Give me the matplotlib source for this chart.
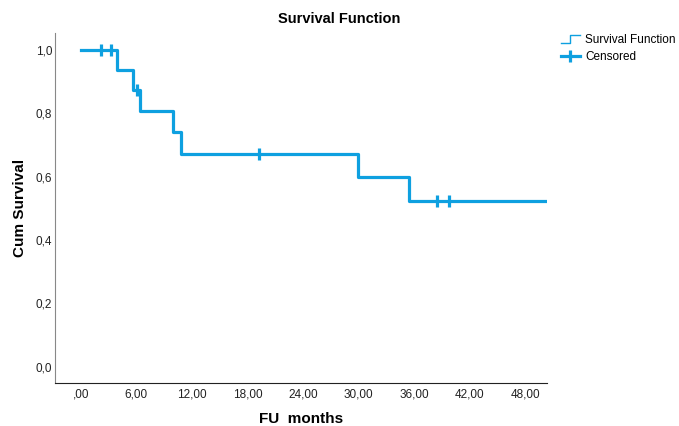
import matplotlib
matplotlib.use("Agg")
import matplotlib.pyplot as plt
from matplotlib.lines import Line2D
from matplotlib.legend_handler import HandlerBase

plt.rcParams["font.family"] = ["Liberation Sans", "DejaVu Sans"]

# Kaplan-Meier steps
zeiten = [0.0, 3.9, 5.6, 6.4, 9.9, 10.8, 29.9, 35.5, 50.4]
ueberleben = [1.0, 0.9375, 0.875, 0.8077, 0.7404, 0.6731, 0.5983, 0.5235, 0.5235]

zensiert_zeiten = [2.2, 3.2, 6.1, 19.2, 38.5, 39.8]
zensiert_werte = [1.0, 1.0, 0.875, 0.6731, 0.5235, 0.5235]

x_ticks = [0, 6, 12, 18, 24, 30, 36, 42, 48]
x_labels = [",00", "6,00", "12,00", "18,00", "24,00", "30,00", "36,00", "42,00", "48,00"]
y_ticks = [0.0, 0.2, 0.4, 0.6, 0.8, 1.0]
y_labels = ["0,0", "0,2", "0,4", "0,6", "0,8", "1,0"]

farbe = "#0ea0e0"


class StufenHandler(HandlerBase):
    def create_artists(self, legend, orig_handle, xdescent, ydescent,
                       width, height, fontsize, trans):
        x0 = -xdescent
        y0 = -ydescent
        xs = [x0, x0 + width * 0.5, x0 + width * 0.5, x0 + width]
        ys = [y0, y0, y0 + height, y0 + height]
        linie = Line2D(xs, ys, color=farbe, lw=1.0, transform=trans)
        return [linie]


fig = plt.figure(figsize=(6.79, 4.26), dpi=100)
ax = fig.add_axes([0.081, 0.101, 0.725, 0.8215])

ax.step(zeiten, ueberleben, where="post", color=farbe, lw=2.3)
ax.plot(zensiert_zeiten, zensiert_werte, linestyle="none", marker="|",
        markersize=8, markeredgewidth=2.3, color=farbe)

ax.set_xlim(-2.8, 50.4)
ax.set_ylim(-0.052, 1.054)
ax.set_xticks(x_ticks)
ax.set_xticklabels(x_labels)
ax.set_yticks(y_ticks)
ax.set_yticklabels(y_labels)
ax.tick_params(length=0, labelsize=8.5, colors="#222222")
ax.tick_params(axis="x", pad=4)
ax.tick_params(axis="y", pad=2)

ax.spines["top"].set_visible(False)
ax.spines["right"].set_visible(False)
ax.spines["left"].set_color("#888888")
ax.spines["bottom"].set_color("#222222")

fig.text(0.5, 0.955, "Survival Function", ha="center", va="center",
         fontsize=10.5, fontweight="bold")
ax.set_xlabel("FU  months", fontsize=11, fontweight="bold", labelpad=8)
ax.set_ylabel("Cum Survival", fontsize=11, fontweight="bold", labelpad=6)

h1 = Line2D([], [], color=farbe)
h2 = Line2D([], [], color=farbe, lw=2.3, marker="|", markersize=8,
            markeredgewidth=2.3)
fig.legend([h1, h2], ["Survival Function", "Censored"],
           handler_map={h1: StufenHandler()},
           loc="upper left", bbox_to_anchor=(0.81, 0.945), frameon=False,
           fontsize=8.5, handlelength=1.6, handletextpad=0.5,
           labelspacing=0.45)

fig.savefig("out.png", dpi=100)
